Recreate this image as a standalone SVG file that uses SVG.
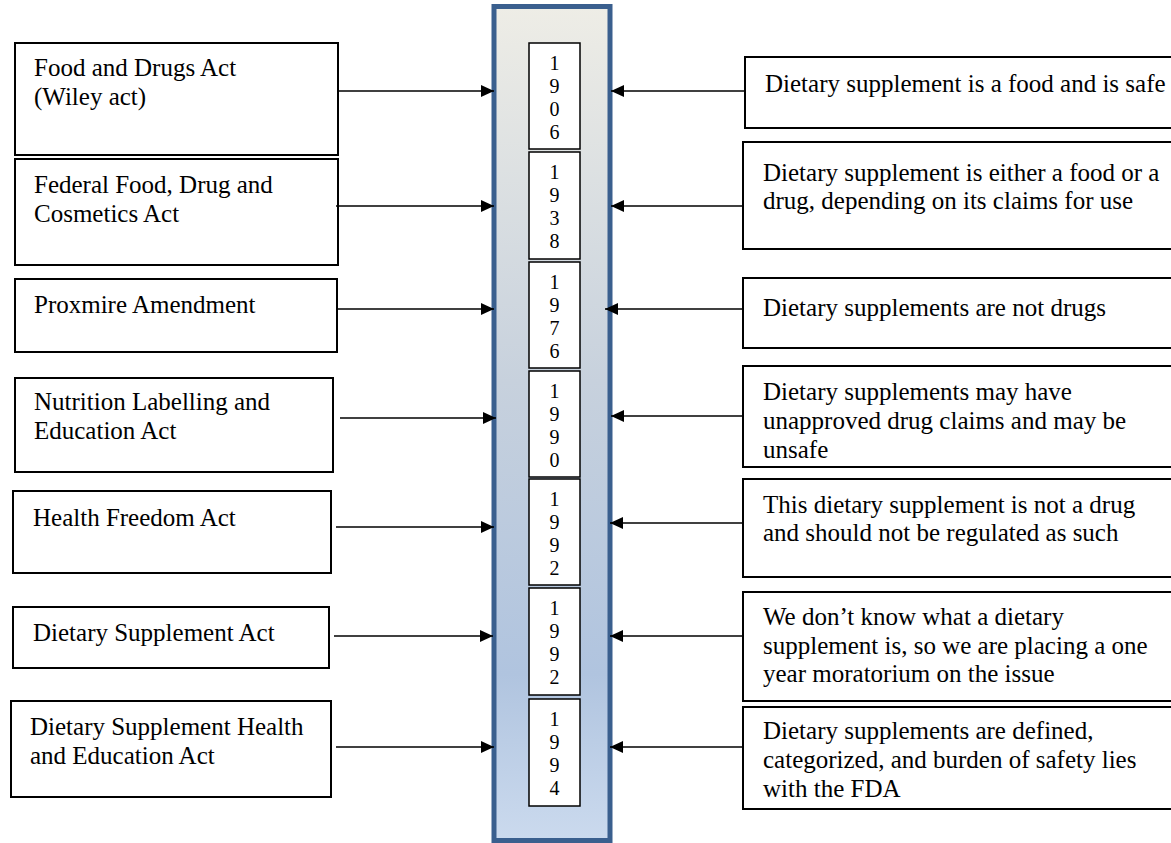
<svg xmlns="http://www.w3.org/2000/svg" width="1171" height="843" viewBox="0 0 1171 843">
<defs>
<linearGradient id="barFill" x1="0" y1="0" x2="0" y2="1">
<stop offset="0" stop-color="#EEEDE6"/>
<stop offset="0.45" stop-color="#C7D1DD"/>
<stop offset="0.8" stop-color="#B0C4DF"/>
<stop offset="1" stop-color="#CBDAEE"/>
</linearGradient>
<marker id="ah" markerUnits="userSpaceOnUse" markerWidth="14" markerHeight="12" refX="13" refY="6" orient="auto">
<path d="M0,0 L13,6 L0,12 z" fill="#000"/>
</marker>
</defs>
<style>
.box{fill:#fff;stroke:#000;stroke-width:2}
.yr{fill:#fff;stroke:#000;stroke-width:1.5}
.t{font-family:"Liberation Serif","Times New Roman",serif;font-size:25px;fill:#000}
.d{font-family:"Liberation Serif","Times New Roman",serif;font-size:20px;fill:#000;text-anchor:middle}
.c{stroke:#000;stroke-width:1.6;fill:none;marker-end:url(#ah)}
</style>
<rect width="1171" height="843" fill="#fff"/>
<g id="timeline">
<rect x="494" y="6.5" width="116" height="834" fill="url(#barFill)" stroke="#3A5F8E" stroke-width="5"/>
</g>
<g id="y1906"><rect class="yr" x="529" y="43" width="51" height="106"/><text class="d" x="554.5" y="70">1</text><text class="d" x="554.5" y="93">9</text><text class="d" x="554.5" y="116">0</text><text class="d" x="554.5" y="139">6</text></g>
<g id="y1938"><rect class="yr" x="529" y="152" width="51" height="107"/><text class="d" x="554.5" y="179">1</text><text class="d" x="554.5" y="202">9</text><text class="d" x="554.5" y="225">3</text><text class="d" x="554.5" y="248">8</text></g>
<g id="y1976"><rect class="yr" x="529" y="262" width="51" height="106"/><text class="d" x="554.5" y="289">1</text><text class="d" x="554.5" y="312">9</text><text class="d" x="554.5" y="335">7</text><text class="d" x="554.5" y="358">6</text></g>
<g id="y1990"><rect class="yr" x="529" y="371" width="51" height="106"/><text class="d" x="554.5" y="398">1</text><text class="d" x="554.5" y="421">9</text><text class="d" x="554.5" y="444">9</text><text class="d" x="554.5" y="467">0</text></g>
<g id="y1992a"><rect class="yr" x="529" y="479" width="51" height="106"/><text class="d" x="554.5" y="506">1</text><text class="d" x="554.5" y="529">9</text><text class="d" x="554.5" y="552">9</text><text class="d" x="554.5" y="575">2</text></g>
<g id="y1992b"><rect class="yr" x="529" y="588" width="51" height="107"/><text class="d" x="554.5" y="615">1</text><text class="d" x="554.5" y="638">9</text><text class="d" x="554.5" y="661">9</text><text class="d" x="554.5" y="684">2</text></g>
<g id="y1994"><rect class="yr" x="529" y="699" width="51" height="107"/><text class="d" x="554.5" y="726">1</text><text class="d" x="554.5" y="749">9</text><text class="d" x="554.5" y="772">9</text><text class="d" x="554.5" y="795">4</text></g>

<g id="act1"><rect class="box" x="15" y="43" width="323" height="112"/><text class="t" x="34" y="76">Food and Drugs Act</text><text class="t" x="34" y="105">(Wiley act)</text></g>
<g id="act2"><rect class="box" x="15" y="159" width="323" height="106"/><text class="t" x="34" y="193">Federal Food, Drug and</text><text class="t" x="34" y="222">Cosmetics Act</text></g>
<g id="act3"><rect class="box" x="15" y="279" width="322" height="73"/><text class="t" x="34" y="313">Proxmire Amendment</text></g>
<g id="act4"><rect class="box" x="15" y="378" width="318" height="94"/><text class="t" x="34" y="410">Nutrition Labelling and</text><text class="t" x="34" y="439">Education Act</text></g>
<g id="act5"><rect class="box" x="13" y="491" width="318" height="82"/><text class="t" x="33" y="526">Health Freedom Act</text></g>
<g id="act6"><rect class="box" x="13" y="607" width="316" height="61"/><text class="t" x="33" y="641">Dietary Supplement Act</text></g>
<g id="act7"><rect class="box" x="11" y="701" width="320" height="96"/><text class="t" x="30" y="735">Dietary Supplement Health</text><text class="t" x="30" y="764">and Education Act</text></g>

<g id="view1"><rect class="box" x="745" y="57" width="460" height="71"/><text class="t" x="765" y="92">Dietary supplement is a food and is safe</text></g>
<g id="view2"><rect class="box" x="743" y="142" width="460" height="107"/><text class="t" x="763" y="181">Dietary supplement is either a food or a</text><text class="t" x="763" y="209">drug, depending on its claims for use</text></g>
<g id="view3"><rect class="box" x="743" y="278" width="460" height="70"/><text class="t" x="763" y="316">Dietary supplements are not drugs</text></g>
<g id="view4"><rect class="box" x="743" y="366" width="460" height="101"/><text class="t" x="763" y="400">Dietary supplements may have</text><text class="t" x="763" y="429">unapproved drug claims and may be</text><text class="t" x="763" y="458">unsafe</text></g>
<g id="view5"><rect class="box" x="743" y="479" width="460" height="98"/><text class="t" x="763" y="513">This dietary supplement is not a drug</text><text class="t" x="763" y="541">and should not be regulated as such</text></g>
<g id="view6"><rect class="box" x="743" y="592" width="460" height="109"/><text class="t" x="763" y="625">We don’t know what a dietary</text><text class="t" x="763" y="654">supplement is, so we are placing a one</text><text class="t" x="763" y="682">year moratorium on the issue</text></g>
<g id="view7"><rect class="box" x="743" y="707" width="460" height="102"/><text class="t" x="763" y="739">Dietary supplements are defined,</text><text class="t" x="763" y="768">categorized, and burden of safety lies</text><text class="t" x="763" y="797">with the FDA</text></g>

<g id="connectors">
<line class="c" x1="338" y1="91" x2="494" y2="91"/>
<line class="c" x1="336" y1="206" x2="494" y2="206"/>
<line class="c" x1="338" y1="309" x2="494" y2="309"/>
<line class="c" x1="340" y1="418" x2="496" y2="418"/>
<line class="c" x1="336" y1="527" x2="494" y2="527"/>
<line class="c" x1="334" y1="636" x2="493" y2="636"/>
<line class="c" x1="336" y1="747" x2="494" y2="747"/>
<line class="c" x1="745" y1="91" x2="611" y2="91"/>
<line class="c" x1="743" y1="206" x2="611" y2="206"/>
<line class="c" x1="743" y1="309" x2="605" y2="309"/>
<line class="c" x1="743" y1="416" x2="611" y2="416"/>
<line class="c" x1="743" y1="523" x2="610" y2="523"/>
<line class="c" x1="743" y1="636" x2="610" y2="636"/>
<line class="c" x1="743" y1="747" x2="610" y2="747"/>
</g>
</svg>
